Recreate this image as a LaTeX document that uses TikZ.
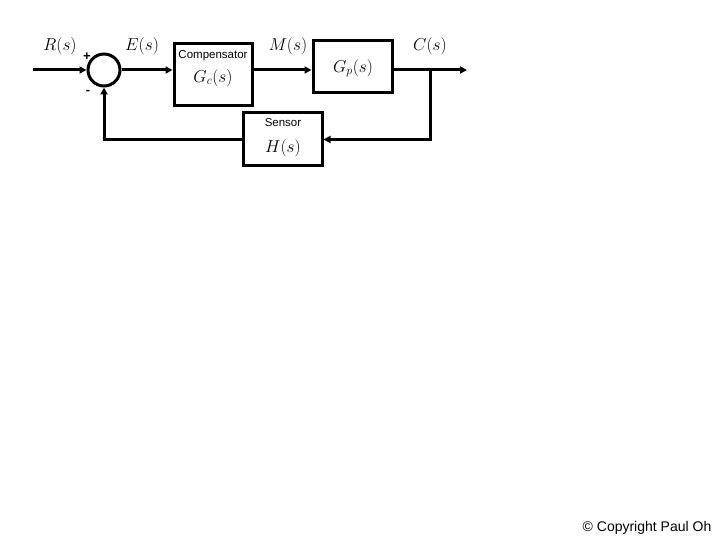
\documentclass[tikz,border=0pt]{standalone}
\usepackage{fontspec}
\setsansfont{Liberation Sans}
\usetikzlibrary{arrows.meta,positioning}

\begin{document}
\begin{tikzpicture}[x=1pt,y=-1pt,
        block/.style={draw,line width=3pt,inner sep=0pt},
        junction/.style={circle,draw,line width=3pt,minimum size=32pt,inner sep=0pt},
        arrow/.style={-{Triangle[length=7pt,width=7pt]},line width=3pt},
        signal/.style={font=\fontsize{17}{19}\selectfont},
        caption/.style={font=\sffamily\fontsize{11.5}{13}\selectfont},
        sign/.style={font=\sffamily\bfseries\fontsize{13}{15}\selectfont}
    ]
    \useasboundingbox (0,0) rectangle (720,540);
    % blocks
    \node[junction] (sum) at (104,70) {};
    \node[block,minimum width=78pt,minimum height=62pt] (comp) at (213,75) {};
    \node[block,minimum width=79pt,minimum height=52pt] (plant) at (352.5,67) {};
    \node[block,minimum width=79pt,minimum height=53pt] (sensor) at (282.5,139.5) {};
    % texts in blocks
    \node[caption] (compname) at (213,56) {Compensator};
    \node[signal] (gc) at (213,78) {$G_c(s)$};
    \node[signal] (gp) at (353,68) {$G_p(s)$};
    \node[caption] (sensorname) at (283,123) {Sensor};
    \node[signal] (hs) at (283,148) {$H(s)$};
    % signal labels
    \node[signal] (rs) at (60,46) {$R(s)$};
    \node[signal] (es) at (142,46) {$E(s)$};
    \node[signal] (ms) at (288,46) {$M(s)$};
    \node[signal] (cs) at (430,46) {$C(s)$};
    \node[sign] (plus) at (87,57) {+};
    \node[sign] (minus) at (88,92) {-};
    % connectors
    \coordinate (in) at (33,70);
    \coordinate (out) at (467,70);
    \coordinate (branch) at (430,70);
    \draw[arrow] (in) -- (sum.west);
    \draw[arrow] (sum.east) -- (comp.west |- sum);
    \draw[arrow] (comp.east |- sum) -- (plant.west |- sum);
    \draw[arrow] (plant.east |- sum) -- (out);
    \draw[arrow] (branch) |- (sensor.east);
    \draw[arrow] (sensor.west) -| (sum.south);
    % footer
    \node[font=\sffamily\fontsize{14}{16}\selectfont] (copy) at (647,528) {\textcopyright{} Copyright Paul Oh};
\end{tikzpicture}
\end{document}
